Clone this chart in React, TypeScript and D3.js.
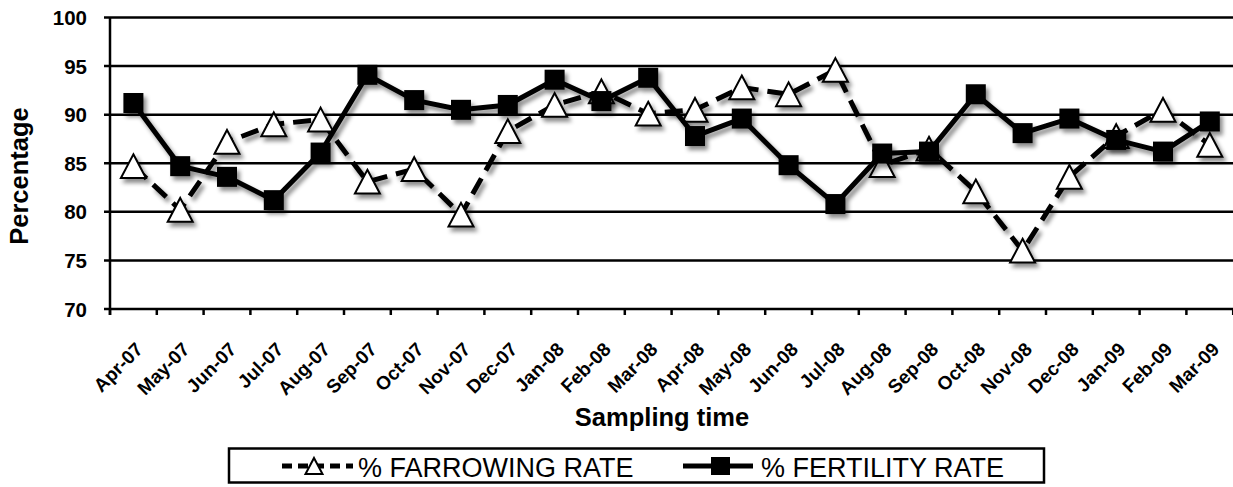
import React from "react";
import * as d3 from "d3";

// Sampling months (x categories)
const months = [
  "Apr-07", "May-07", "Jun-07", "Jul-07", "Aug-07", "Sep-07", "Oct-07", "Nov-07",
  "Dec-07", "Jan-08", "Feb-08", "Mar-08", "Apr-08", "May-08", "Jun-08", "Jul-08",
  "Aug-08", "Sep-08", "Oct-08", "Nov-08", "Dec-08", "Jan-09", "Feb-09", "Mar-09",
];

// % farrowing rate per month
const farrowing = [
  84.7, 80.2, 87.2, 89.0, 89.5, 83.1, 84.4, 79.7, 88.3, 91.0, 92.4, 90.1,
  90.5, 92.8, 92.1, 94.6, 84.8, 86.5, 82.1, 76.0, 83.6, 87.8, 90.5, 86.9,
];

// % fertility rate per month
const fertility = [
  91.2, 84.7, 83.6, 81.2, 86.1, 94.1, 91.5, 90.5, 91.0, 93.6, 91.4, 93.8,
  87.8, 89.6, 84.8, 80.8, 86.0, 86.2, 92.1, 88.1, 89.6, 87.4, 86.2, 89.3,
];

const yTicks = [70, 75, 80, 85, 90, 95, 100];

const seriesNames = ["% FARROWING RATE", "% FERTILITY RATE"];

const W = 1233;
const H = 487;
const FONT = "'Liberation Sans', Arial, Helvetica, sans-serif";

const x = d3.scaleBand<string>().domain(months).range([110, 1233.2]);
const y = d3.scaleLinear().domain([70, 100]).range([309, 17.5]);
const cx = (m: string) => (x(m) as number) + x.bandwidth() / 2;

const line = d3
  .line<number>()
  .x((_, i) => cx(months[i]))
  .y((v) => y(v));

const TRI = 25; // triangle marker size
const SQ = 20; // square marker size

function triPath(px: number, py: number, s: number) {
  const h = s * 0.95;
  return `M${px},${py - h / 2}L${px + s / 2},${py + h / 2}L${px - s / 2},${py + h / 2}Z`;
}

export default function App() {
  const [x0, x1] = x.range();
  const boundaries = d3.range(months.length + 1).map((i) => x0 + i * x.step());

  return (
    <svg
      width={W}
      height={H}
      style={{ position: "absolute", left: 0, top: 0, background: "#fff" }}
      fontFamily={FONT}
    >
      <defs>
        <filter id="shadow" x="-10%" y="-10%" width="120%" height="130%">
          <feDropShadow dx="3" dy="4" stdDeviation="2.2" floodColor="#000" floodOpacity="0.45" />
        </filter>
      </defs>

      {/* horizontal gridlines + y ticks */}
      {yTicks.map((t) => (
        <g key={t}>
          <line x1={x0 - 6} x2={x1 + 2} y1={y(t)} y2={y(t)} stroke="#000" strokeWidth={2.5} />
          <text
            x={87}
            y={y(t) + 7.5}
            textAnchor="end"
            fontSize={20.5}
            fontWeight="bold"
          >
            {t}
          </text>
        </g>
      ))}

      {/* y axis line */}
      <line x1={x0} x2={x0} y1={y(100)} y2={y(70) + 6} stroke="#000" strokeWidth={2.5} />

      {/* x ticks at category boundaries */}
      {boundaries.map((b, i) => (
        <line key={i} x1={b} x2={b} y1={y(70)} y2={y(70) + 6} stroke="#000" strokeWidth={2.5} />
      ))}

      {/* x tick labels */}
      {months.map((m) => (
        <text
          key={m}
          transform={`translate(${cx(m) + 6},${346}) rotate(-45)`}
          textAnchor="end"
          dominantBaseline="central"
          fontSize={19}
          fontWeight="bold"
        >
          {m}
        </text>
      ))}

      {/* axis titles */}
      <text
        transform={`translate(${28},${176}) rotate(-90)`}
        textAnchor="middle"
        fontSize={25.5}
        fontWeight="bold"
      >
        Percentage
      </text>
      <text x={662} y={426} textAnchor="middle" fontSize={25.5} fontWeight="bold">
        Sampling time
      </text>

      {/* farrowing series: dashed line with open triangles */}
      <g filter="url(#shadow)">
        <path
          d={line(farrowing) as string}
          fill="none"
          stroke="#000"
          strokeWidth={5}
          strokeDasharray="18,9"
          strokeLinejoin="round"
        />
        {farrowing.map((v, i) => (
          <path
            key={i}
            d={triPath(cx(months[i]), y(v), TRI)}
            fill="#fff"
            stroke="#000"
            strokeWidth={2}
            strokeLinejoin="miter"
          />
        ))}
      </g>

      {/* fertility series: solid line with filled squares */}
      <g filter="url(#shadow)">
        <path
          d={line(fertility) as string}
          fill="none"
          stroke="#000"
          strokeWidth={5}
          strokeLinejoin="round"
        />
        {fertility.map((v, i) => (
          <rect
            key={i}
            x={cx(months[i]) - SQ / 2}
            y={y(v) - SQ / 2}
            width={SQ}
            height={SQ}
            fill="#000"
          />
        ))}
      </g>

      {/* legend */}
      <g>
        <rect x={229} y={448.5} width={815} height={34} fill="#fff" stroke="#000" strokeWidth={2.5} />
        <line x1={282} x2={353} y1={466} y2={466} stroke="#000" strokeWidth={5} strokeDasharray="10,6" />
        <path d={triPath(314, 466, 17)} fill="#fff" stroke="#000" strokeWidth={2} />
        <text x={358} y={477} fontSize={27}>
          {seriesNames[0]}
        </text>
        <line x1={683} x2={753} y1={466} y2={466} stroke="#000" strokeWidth={5} />
        <rect x={711} y={457} width={19} height={18} fill="#000" />
        <text x={761} y={477} fontSize={27}>
          {seriesNames[1]}
        </text>
      </g>
    </svg>
  );
}
